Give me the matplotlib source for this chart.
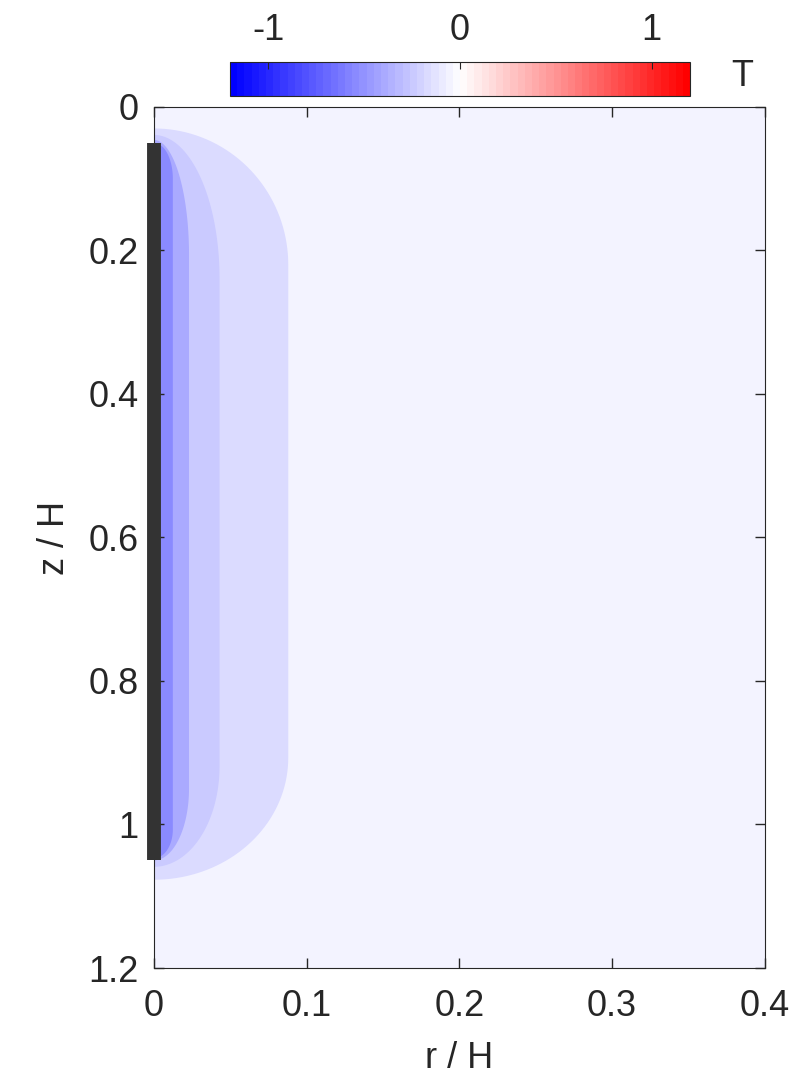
import numpy as np
import matplotlib
matplotlib.use("Agg")
import matplotlib.pyplot as plt
from matplotlib.colors import LinearSegmentedColormap, Normalize

plt.rcParams['font.family'] = ['Liberation Sans', 'DejaVu Sans']
plt.rcParams['axes.unicode_minus'] = False

# temperature levels of the filled regions (outer -> inner)
T_background = -0.07
T_levels = [-0.18, -0.26, -0.40, -0.54]
# outline of each filled region: max radius, top / bottom at r=0, corner heights
R_max = [0.088, 0.043, 0.023, 0.0124]
z_top = [0.030, 0.039, 0.046, 0.050]
z_bot = [1.077, 1.059, 1.050, 1.047]
corner_top = [0.19, 0.20, 0.16, 0.05]
corner_bot = [0.17, 0.14, 0.10, 0.04]

# borehole
bh_top, bh_bot = 0.05, 1.05

cmap = LinearSegmentedColormap.from_list("bwr_m", ["#0000ff", "#ffffff", "#ff0000"], N=64)
norm = Normalize(-1.2, 1.2)

#rounded outline of one region (elliptic corners)
def outline(R, zt, zb, at, ab):
    t = np.linspace(0, np.pi / 2, 40)
    # top corner: from r=0 at zt to r=R at zt+at
    r1 = R * np.sin(t)
    z1 = zt + at - at * np.cos(t)
    # bottom corner: from r=R at zb-ab to r=0 at zb
    r2 = R * np.cos(t)
    z2 = zb - ab + ab * np.sin(t)
    r = np.concatenate([[0], r1, r2, [0]])
    z = np.concatenate([[zt], z1, z2, [zb]])
    return r, z

fig = plt.figure(figsize=(8.1, 10.8), dpi=100)
ax = fig.add_axes([0.190, 0.1037, 0.754, 0.7973])
ax.set_facecolor(cmap(norm(T_background)))

for i in range(len(T_levels)):
    r, z = outline(R_max[i], z_top[i], z_bot[i], corner_top[i], corner_bot[i])
    ax.fill(r, z, color=cmap(norm(T_levels[i])), lw=0)

ax.plot([0, 0], [bh_top, bh_bot], color="#333333", lw=10, solid_capstyle="butt", clip_on=False, zorder=5)

ax.set_xlim(0, 0.4)
ax.set_ylim(1.2, 0)
ax.set_xticks([0, 0.1, 0.2, 0.3, 0.4])
ax.set_xticklabels(["0", "0.1", "0.2", "0.3", "0.4"])
ax.set_yticks([0, 0.2, 0.4, 0.6, 0.8, 1.0, 1.2])
ax.set_yticklabels(["0", "0.2", "0.4", "0.6", "0.8", "1", "1.2"])
ax.tick_params(direction="in", top=True, right=True, length=7, width=1, labelsize=26, colors="#262626")
ax.tick_params(axis="x", pad=15)
ax.tick_params(axis="y", pad=11)
for s in ax.spines.values():
    s.set_color("#262626")
ax.set_xlabel("r / H", fontsize=26, color="#262626", labelpad=12)
ax.set_ylabel("z / H", fontsize=26, color="#262626", labelpad=12)

cax = fig.add_axes([0.284, 0.911, 0.568, 0.0315])
sm = plt.cm.ScalarMappable(norm=norm, cmap=cmap)
cb = fig.colorbar(sm, cax=cax, orientation="horizontal")
cb.set_ticks([-1, 0, 1])
cb.ax.xaxis.set_ticks_position("top")
cb.ax.tick_params(direction="in", length=5, labelsize=26, colors="#262626", pad=10)
cb.outline.set_edgecolor("#262626")
fig.text(0.903, 0.929, "T", fontsize=26, color="#262626", va="center", ha="left")

fig.savefig("out.png", dpi=100)
